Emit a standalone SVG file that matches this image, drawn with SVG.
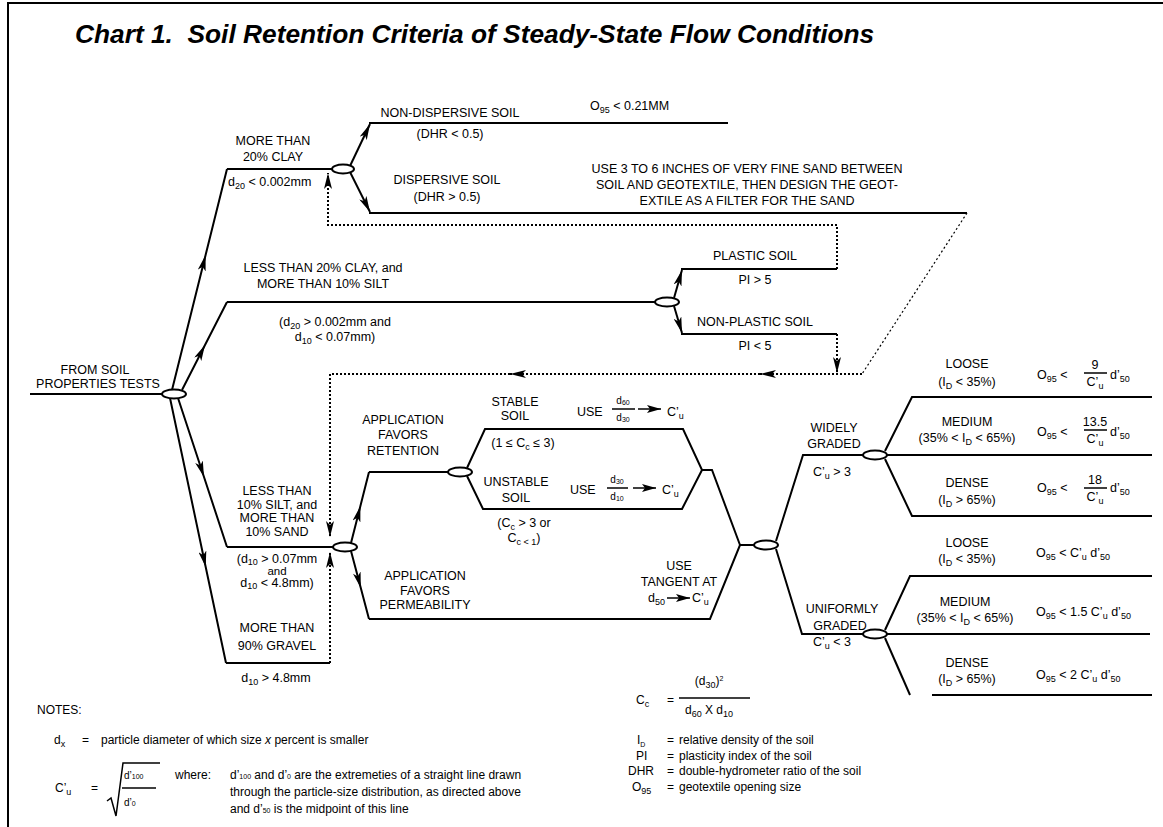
<svg xmlns="http://www.w3.org/2000/svg" width="1163" height="827" viewBox="0 0 1163 827">
<defs>
<style>
text{font-family:"Liberation Sans",Arial,sans-serif;font-size:12.5px;fill:#000}
.m{text-anchor:middle}
.sb{font-size:9px}
.n{font-size:12px}
.sm{font-size:10px}
.xs{font-size:7px}
.ti{font-size:26.3px;font-weight:bold;font-style:italic}
.ln{fill:none;stroke:#000;stroke-width:2}
.thin{fill:none;stroke:#000;stroke-width:1.5}
.dt{fill:none;stroke:#000;stroke-width:2;stroke-dasharray:2 2}
.dt2{fill:none;stroke:#000;stroke-width:1.2;stroke-dasharray:2 2.5}
.ae{marker-end:url(#ah)}
.am{marker-mid:url(#ah)}
.as{marker-end:url(#ahs)}
ellipse{fill:#fff;stroke:#000;stroke-width:2}
</style>
<marker id="ah" viewBox="0 0 16 8" refX="16" refY="4" markerWidth="16" markerHeight="8" markerUnits="userSpaceOnUse" orient="auto"><path d="M0,0 L16,4 L0,8 L4,4 Z" fill="#000"/></marker>
<marker id="ahs" viewBox="0 0 14 8" refX="14" refY="4" markerWidth="14" markerHeight="8" markerUnits="userSpaceOnUse" orient="auto"><path d="M0,0 L14,4 L0,8 L3,4 Z" fill="#000"/></marker>
</defs>
<rect width="1163" height="827" fill="#fff"/>
<path class="ln" d="M8,827 V3 H1163"/>
<text class="ti" x="75" y="43" xml:space="preserve">Chart 1.  Soil Retention Criteria of Steady-State Flow Conditions</text>

<g id="connectors">
<path class="ln" d="M30,394 H162"/>
<path class="ln am" d="M172,390 L205.6,255 L227,169"/>
<path class="ln" d="M227,169 H333"/>
<path class="ln am" d="M182,390 L205,345 L227,302"/>
<path class="ln" d="M227,302 H655"/>
<path class="ln am" d="M178,398 L204,477 L227,547"/>
<path class="ln" d="M227,547 H333"/>
<path class="ln am" d="M170,398 L205.7,567 L226,663"/>
<path class="ln" d="M226,663 H330"/>
<path class="ln ae" d="M350,166 L370,124"/>
<path class="ln" d="M369,123 H728"/>
<path class="ln ae" d="M350,172 L370,212"/>
<path class="ln" d="M369,213 H967"/>
<path class="ln ae" d="M674,298 L682,270"/>
<path class="ln" d="M681,269 H837"/>
<path class="ln ae" d="M674,306 L682,333"/>
<path class="ln" d="M681,334 H837"/>
<path class="ln am" d="M351,543 L360.4,506 L369,472"/>
<path class="ln" d="M369,472 H448"/>
<path class="ln am" d="M351,551 L360.8,588 L369,619"/>
<path class="ln" d="M369,619 H710 L740,545 H754"/>
<path class="ln" d="M467,468 L485,429 H683 L702,470 H712 L740,545"/>
<path class="ln" d="M467,476 L483,509 H682 L702,470"/>
<path class="ln" d="M776,541 L803,455 H863"/>
<path class="ln" d="M776,549 L802,634 H863"/>
<path class="ln" d="M885,451 L912,397 H1152"/>
<path class="ln" d="M887,455 H1152"/>
<path class="ln" d="M885,459 L912,516 H1152"/>
<path class="ln" d="M885,630 L910,576 H1152"/>
<path class="ln" d="M887,634 H1150"/>
<path class="ln" d="M885,638 L910,695"/>
<path class="ln" d="M932,695 H1152"/>
<path class="dt ae" d="M837,269 V225 H328 V173"/>
<path class="dt2" d="M967,213 L862,374"/>
<path class="dt ae" d="M862,374 H760"/>
<path class="dt ae" d="M760,374 H510"/>
<path class="dt ae" d="M510,374 H330 V537"/>
<path class="dt ae" d="M837,334 V373"/>
<path class="dt ae" d="M330,663 V552"/>
</g>

<g id="d0"><ellipse cx="174" cy="394" rx="12" ry="4.5"/></g>
<g id="d1"><ellipse cx="343" cy="169" rx="11" ry="4.5"/></g>
<g id="d2"><ellipse cx="667" cy="302" rx="12" ry="4.5"/></g>
<g id="d3"><ellipse cx="345" cy="547" rx="12" ry="4.5"/></g>
<g id="d4"><ellipse cx="460" cy="472" rx="12" ry="4.5"/></g>
<g id="d5"><ellipse cx="766" cy="545" rx="12" ry="4.5"/></g>
<g id="d6"><ellipse cx="875" cy="455" rx="12" ry="4.5"/></g>
<g id="d7"><ellipse cx="875" cy="634" rx="12" ry="4.5"/></g>

<g id="n-root">
<text class="m" x="95" y="374">FROM SOIL</text>
<text class="m" x="98" y="388">PROPERTIES TESTS</text>
</g>
<g id="n-clay">
<text class="m" x="273" y="145">MORE THAN</text>
<text class="m" x="273" y="161">20% CLAY</text>
<text x="228" y="186">d<tspan class="sb" dy="3">20</tspan><tspan dy="-3"> &lt; 0.002mm</tspan></text>
</g>
<g id="n-nondisp">
<text class="m" x="450" y="117">NON-DISPERSIVE SOIL</text>
<text class="m" x="450" y="138">(DHR &lt; 0.5)</text>
<text x="590" y="110">O<tspan class="sb" dy="3">95</tspan><tspan dy="-3"> &lt; 0.21MM</tspan></text>
</g>
<g id="n-disp">
<text class="m" x="447" y="184">DISPERSIVE SOIL</text>
<text class="m" x="447" y="201">(DHR &gt; 0.5)</text>
<text class="m" x="747" y="173">USE 3 TO 6 INCHES OF VERY FINE SAND BETWEEN</text>
<text class="m" x="747" y="189">SOIL AND GEOTEXTILE, THEN DESIGN THE GEOT-</text>
<text class="m" x="747" y="205">EXTILE AS A FILTER FOR THE SAND</text>
</g>
<g id="n-silt">
<text class="m" x="323" y="272">LESS THAN 20% CLAY, and</text>
<text class="m" x="323" y="288">MORE THAN 10% SILT</text>
<text class="m" x="335" y="326">(d<tspan class="sb" dy="2.5">20</tspan><tspan dy="-2.5"> &gt; 0.002mm and</tspan></text>
<text class="m" x="335" y="341">d<tspan class="sb" dy="2.5">10</tspan><tspan dy="-2.5"> &lt; 0.07mm)</tspan></text>
</g>
<g id="n-plastic">
<text class="m" x="755" y="260">PLASTIC SOIL</text>
<text class="m" x="755" y="284">PI &gt; 5</text>
</g>
<g id="n-nonplastic">
<text class="m" x="755" y="326">NON-PLASTIC SOIL</text>
<text class="m" x="755" y="350">PI &lt; 5</text>
</g>
<g id="n-sand">
<text class="m" x="277" y="495">LESS THAN</text>
<text class="m" x="277" y="509">10% SILT, and</text>
<text class="m" x="277" y="522">MORE THAN</text>
<text class="m" x="277" y="536">10% SAND</text>
<text class="m" x="277" y="563">(d<tspan class="sb" dy="2">10</tspan><tspan dy="-2"> &gt; 0.07mm</tspan></text>
<text class="m" x="277" y="575" style="font-size:11.5px">and</text>
<text class="m" x="277" y="587">d<tspan class="sb" dy="2">10</tspan><tspan dy="-2"> &lt; 4.8mm)</tspan></text>
</g>
<g id="n-gravel">
<text class="m" x="277" y="632">MORE THAN</text>
<text class="m" x="277" y="650">90% GRAVEL</text>
<text class="m" x="276" y="682">d<tspan class="sb" dy="3">10</tspan><tspan dy="-3"> &gt; 4.8mm</tspan></text>
</g>
<g id="n-retention">
<text class="m" x="403" y="424">APPLICATION</text>
<text class="m" x="403" y="439">FAVORS</text>
<text class="m" x="403" y="455">RETENTION</text>
</g>
<g id="n-permeability">
<text class="m" x="425" y="580">APPLICATION</text>
<text class="m" x="425" y="595">FAVORS</text>
<text class="m" x="425" y="609">PERMEABILITY</text>
</g>
<g id="n-stable">
<text class="m" x="515" y="406">STABLE</text>
<text class="m" x="515" y="420">SOIL</text>
<text class="m" x="523" y="447">(1 ≤ C<tspan class="sb" dy="3">c</tspan><tspan dy="-3"> ≤ 3)</tspan></text>
<text x="577" y="416">USE</text>
<text class="m sm" x="623" y="404">d<tspan class="xs" dy="1">60</tspan></text>
<path class="thin" d="M612,409 H635"/>
<text class="m sm" x="623" y="421">d<tspan class="xs" dy="1">30</tspan></text>
<path class="thin as" d="M638,409 H661"/>
<text x="667" y="416">C’<tspan class="sb" dy="3">u</tspan></text>
</g>
<g id="n-unstable">
<text class="m" x="516" y="486">UNSTABLE</text>
<text class="m" x="516" y="502">SOIL</text>
<text class="m" x="524" y="527">(C<tspan class="sb" dy="3">c</tspan><tspan dy="-3"> &gt; 3 or</tspan></text>
<text class="m" x="524" y="542">C<tspan class="sb" dy="3">c &lt; 1</tspan><tspan dy="-3">)</tspan></text>
<text x="570" y="494">USE</text>
<text class="m sm" x="617" y="483">d<tspan class="xs" dy="1">30</tspan></text>
<path class="thin" d="M607,488 H628"/>
<text class="m sm" x="617" y="500">d<tspan class="xs" dy="1">10</tspan></text>
<path class="thin as" d="M633,488 H656"/>
<text x="662" y="494">C’<tspan class="sb" dy="3">u</tspan></text>
</g>
<g id="n-tangent">
<text class="m" x="679" y="570">USE</text>
<text class="m" x="679" y="586">TANGENT AT</text>
<text x="648" y="602">d<tspan class="sb" dy="3">50</tspan></text>
<path class="thin as" d="M667,598 H690"/>
<text x="692" y="602">C’<tspan class="sb" dy="3">u</tspan></text>
</g>
<g id="n-widely">
<text class="m" x="834" y="432">WIDELY</text>
<text class="m" x="834" y="448">GRADED</text>
<text class="m" x="832" y="476">C’<tspan class="sb" dy="3">u</tspan><tspan dy="-3"> &gt; 3</tspan></text>
</g>
<g id="n-uniform">
<text class="m" x="842" y="613">UNIFORMLY</text>
<text class="m" x="840" y="630">GRADED</text>
<text class="m" x="832" y="646">C’<tspan class="sb" dy="3">u</tspan><tspan dy="-3"> &lt; 3</tspan></text>
</g>
<g id="n-w-loose">
<text class="m" x="967" y="368">LOOSE</text>
<text class="m" x="967" y="386">(I<tspan class="sb" dy="3">D</tspan><tspan dy="-3"> &lt; 35%)</tspan></text>
<text x="1037" y="379">O<tspan class="sb" dy="3">95</tspan><tspan dy="-3"> &lt;</tspan></text>
<text class="m" x="1095" y="369">9</text>
<path class="thin" d="M1084,373 H1107"/>
<text class="m" x="1095" y="386">C’<tspan class="sb" dy="3">u</tspan></text>
<text x="1110" y="379">d’<tspan class="sb" dy="3">50</tspan></text>
</g>
<g id="n-w-medium">
<text class="m" x="967" y="426">MEDIUM</text>
<text class="m" x="967" y="442">(35% &lt; I<tspan class="sb" dy="3">D</tspan><tspan dy="-3"> &lt; 65%)</tspan></text>
<text x="1037" y="436">O<tspan class="sb" dy="3">95</tspan><tspan dy="-3"> &lt;</tspan></text>
<text class="m" x="1095" y="426">13.5</text>
<path class="thin" d="M1084,430 H1107"/>
<text class="m" x="1095" y="443">C’<tspan class="sb" dy="3">u</tspan></text>
<text x="1110" y="436">d’<tspan class="sb" dy="3">50</tspan></text>
</g>
<g id="n-w-dense">
<text class="m" x="967" y="487">DENSE</text>
<text class="m" x="967" y="504">(I<tspan class="sb" dy="3">D</tspan><tspan dy="-3"> &gt; 65%)</tspan></text>
<text x="1037" y="492">O<tspan class="sb" dy="3">95</tspan><tspan dy="-3"> &lt;</tspan></text>
<text class="m" x="1095" y="484">18</text>
<path class="thin" d="M1084,488 H1107"/>
<text class="m" x="1095" y="501">C’<tspan class="sb" dy="3">u</tspan></text>
<text x="1110" y="492">d’<tspan class="sb" dy="3">50</tspan></text>
</g>
<g id="n-u-loose">
<text class="m" x="967" y="547">LOOSE</text>
<text class="m" x="967" y="563">(I<tspan class="sb" dy="3">D</tspan><tspan dy="-3"> &lt; 35%)</tspan></text>
<text x="1036" y="557">O<tspan class="sb" dy="3">95</tspan><tspan dy="-3"> &lt; C’</tspan><tspan class="sb" dy="3">u</tspan><tspan dy="-3"> d’</tspan><tspan class="sb" dy="3">50</tspan></text>
</g>
<g id="n-u-medium">
<text class="m" x="965" y="606">MEDIUM</text>
<text class="m" x="965" y="622">(35% &lt; I<tspan class="sb" dy="3">D</tspan><tspan dy="-3"> &lt; 65%)</tspan></text>
<text x="1036" y="616">O<tspan class="sb" dy="3">95</tspan><tspan dy="-3"> &lt; 1.5 C’</tspan><tspan class="sb" dy="3">u</tspan><tspan dy="-3"> d’</tspan><tspan class="sb" dy="3">50</tspan></text>
</g>
<g id="n-u-dense">
<text class="m" x="967" y="667">DENSE</text>
<text class="m" x="967" y="683">(I<tspan class="sb" dy="3">D</tspan><tspan dy="-3"> &gt; 65%)</tspan></text>
<text x="1036" y="679">O<tspan class="sb" dy="3">95</tspan><tspan dy="-3"> &lt; 2 C’</tspan><tspan class="sb" dy="3">u</tspan><tspan dy="-3"> d’</tspan><tspan class="sb" dy="3">50</tspan></text>
</g>

<g id="notes">
<text class="n" x="37" y="714">NOTES:</text>
<text class="n" x="54" y="744">d<tspan class="sb" dy="3">x</tspan></text>
<text class="n" x="82" y="744">=</text>
<text class="n" x="101" y="744">particle diameter of which size <tspan font-style="italic">x</tspan> percent is smaller</text>
<text class="n" x="55" y="792">C’<tspan class="sb" dy="3">u</tspan></text>
<text class="n" x="91" y="792">=</text>
<path class="thin" d="M107,801 L111,798 L116,816 L123,763 H160"/>
<text class="sm" x="124" y="779">d’<tspan class="xs">100</tspan></text>
<path class="thin" d="M122,788 H156"/>
<text class="sm" x="124" y="806">d’<tspan class="xs">0</tspan></text>
<text class="n" x="175" y="779">where:</text>
<text class="n" x="230" y="779">d’<tspan class="xs">100</tspan> and d’<tspan class="xs">0</tspan> are the extremeties of a straight line drawn</text>
<text class="n" x="230" y="796">through the particle-size distribution, as directed above</text>
<text class="n" x="230" y="813">and d’<tspan class="xs">50</tspan> is the midpoint of this line</text>
</g>
<g id="legend">
<text class="n" x="636" y="704">C<tspan class="sb" dy="3">c</tspan></text>
<text class="n" x="667" y="704">=</text>
<text class="n m" x="709" y="685">(d<tspan class="sb" dy="3">30</tspan><tspan dy="-3">)</tspan><tspan class="xs" dy="-4">2</tspan></text>
<path class="thin" d="M679,698 H750"/>
<text class="n m" x="709" y="714">d<tspan class="sb" dy="3">60</tspan><tspan dy="-3"> X d</tspan><tspan class="sb" dy="3">10</tspan></text>
<text class="n" x="637" y="744">I<tspan class="xs" dy="3">D</tspan></text>
<text class="n" x="667" y="744">=</text>
<text class="n" x="679" y="744">relative density of the soil</text>
<text class="n" x="636" y="760">PI</text>
<text class="n" x="667" y="760">=</text>
<text class="n" x="679" y="760">plasticity index of the soil</text>
<text class="n" x="628" y="775">DHR</text>
<text class="n" x="667" y="775">=</text>
<text class="n" x="679" y="775">double-hydrometer ratio of the soil</text>
<text class="n" x="632" y="791">O<tspan class="sb" dy="3">95</tspan></text>
<text class="n" x="667" y="791">=</text>
<text class="n" x="679" y="791">geotextile opening size</text>
</g>
</svg>
